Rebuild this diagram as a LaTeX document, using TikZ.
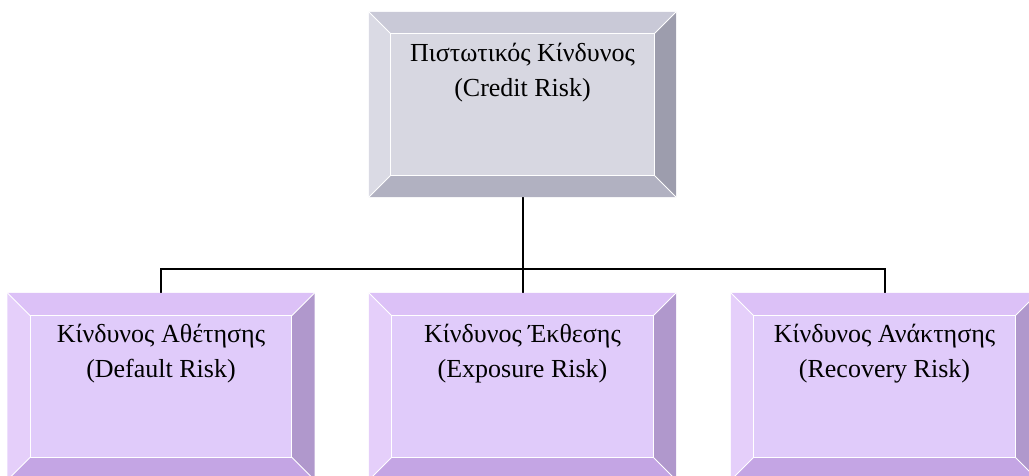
\documentclass[tikz,border=0pt]{standalone}
\usepackage{fontspec}
\setmainfont{Liberation Serif}
\usetikzlibrary{calc}
\definecolor{gTop}{HTML}{C9C9D7}
\definecolor{gLeft}{HTML}{DADAE4}
\definecolor{gRight}{HTML}{9D9DAD}
\definecolor{gBot}{HTML}{B1B1C1}
\definecolor{gFace}{HTML}{D7D7E1}
\definecolor{pTop}{HTML}{DCC1F7}
\definecolor{pLeft}{HTML}{E5CFFA}
\definecolor{pRight}{HTML}{B098CC}
\definecolor{pBot}{HTML}{C4A5E4}
\definecolor{pFace}{HTML}{E0CBFA}
\newcommand\bevelbox[7]{%
  \coordinate (#1-nw) at ($(#1.north west)+(#2,#2)$);
  \coordinate (#1-ne) at ($(#1.north east)+(-#2,#2)$);
  \coordinate (#1-se) at ($(#1.south east)+(-#2,-#2)$);
  \coordinate (#1-sw) at ($(#1.south west)+(#2,-#2)$);
  \fill[#3] (#1.north west) -- (#1.north east) -- (#1-ne) -- (#1-nw) -- cycle;
  \fill[#4] (#1.north west) -- (#1-nw) -- (#1-sw) -- (#1.south west) -- cycle;
  \fill[#5] (#1.north east) -- (#1.south east) -- (#1-se) -- (#1-ne) -- cycle;
  \fill[#6] (#1.south west) -- (#1-sw) -- (#1-se) -- (#1.south east) -- cycle;
  \fill[#7] (#1-nw) rectangle (#1-se);
  \draw[bevline] (#1-nw) rectangle (#1-se);
  \draw[bevline] (#1.north west) -- (#1-nw) (#1.north east) -- (#1-ne)
    (#1.south east) -- (#1-se) (#1.south west) -- (#1-sw);
}
\tikzset{
  x=1pt, y=-1pt,
  boxnode/.style={rectangle, draw=none, inner sep=0pt, minimum width=307pt, minimum height=185pt},
  lownode/.style={boxnode, minimum height=187pt},
  label text/.style={align=center, inner sep=0pt, font=\fontsize{26}{35}\selectfont},
  bevline/.style={white, line width=1pt},
  conn/.style={black, line width=2pt},
}
\begin{document}
\begin{tikzpicture}
\useasboundingbox (0,0) rectangle (1029,476);
\node[boxnode] (top) at (522.5,104.5) {};
\node[lownode] (left) at (161,386.5) {};
\node[lownode] (mid) at (522.5,386.5) {};
\node[lownode] (right) at (884.5,386.5) {};
\coordinate (bus) at (522.5,269);
\draw[conn] (top.south) -- (mid.north);
\draw[conn] (left.north) |- (bus) -| (right.north);
\bevelbox{top}{22}{gTop}{gLeft}{gRight}{gBot}{gFace}
\bevelbox{left}{23}{pTop}{pLeft}{pRight}{pBot}{pFace}
\bevelbox{mid}{23}{pTop}{pLeft}{pRight}{pBot}{pFace}
\bevelbox{right}{23}{pTop}{pLeft}{pRight}{pBot}{pFace}
\node[label text] (toptext) at ($(top.north)+(0,60.5)$) {Πιστωτικός Κίνδυνος\\(Credit Risk)};
\node[label text] (lefttext) at ($(left.north)+(0,60.5)$) {Κίνδυνος Αθέτησης\\(Default Risk)};
\node[label text] (midtext) at ($(mid.north)+(0,60.5)$) {Κίνδυνος Έκθεσης\\(Exposure Risk)};
\node[label text] (righttext) at ($(right.north)+(0,60.5)$) {Κίνδυνος Ανάκτησης\\(Recovery Risk)};
\end{tikzpicture}
\end{document}
